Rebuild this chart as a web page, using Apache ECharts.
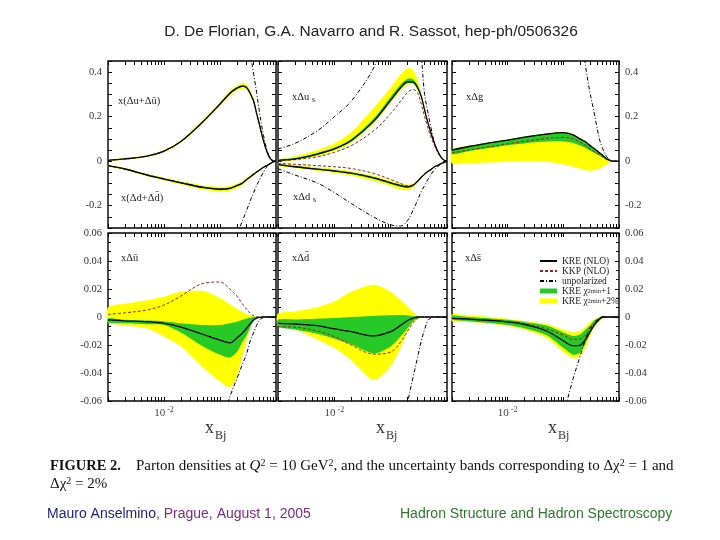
<!DOCTYPE html>
<html><head><meta charset="utf-8">
<script src="https://cdn.jsdelivr.net/npm/echarts@6/dist/echarts.min.js"></script>
<style>html,body{margin:0;padding:0;background:#fff}#c{width:720px;height:540px}</style>
</head><body><div id="c"></div>
<script>
// ---------- x grid and axis ticks ----------
const X = [0.001, 0.002, 0.005, 0.01, 0.02, 0.05, 0.1, 0.15, 0.2, 0.25, 0.3, 0.35, 0.4, 0.45, 0.5, 0.6, 0.7, 0.8, 0.9, 1.0];
const xTickValues = [0.001,0.002,0.003,0.004,0.005,0.006,0.007,0.008,0.009,0.01,0.02,0.03,0.04,0.05,0.06,0.07,0.08,0.09,0.1,0.2,0.3,0.4,0.5,0.6,0.7,0.8,0.9,1];
const xLabelValues = [0.01];
const yLabelsTop = [-0.2, 0, 0.2, 0.4];
const yLabelsBottom = [-0.06, -0.04, -0.02, 0, 0.02, 0.04, 0.06];

// ---------- panel 1 (top left): x(Δu+Δū) and x(Δd+Δd̄) ----------
const uPlusKRE  = [0.004, 0.01, 0.023, 0.045, 0.088, 0.178, 0.257, 0.305, 0.328, 0.337, 0.33, 0.302, 0.268, 0.215, 0.17, 0.09, 0.038, 0.01, 0.001, 0];
const uPlusKKP  = [0.004, 0.01, 0.023, 0.046, 0.089, 0.178, 0.255, 0.302, 0.326, 0.336, 0.331, 0.303, 0.27, 0.217, 0.17, 0.09, 0.038, 0.01, 0.001, 0];
const uPlusUnpol= [null, null, null, null, null, null, null, null, null, null, 0.6, 0.48, 0.39, 0.31, 0.23, 0.115, 0.045, 0.01, 0.001, 0];
const uPlusYhi  = [0.007, 0.014, 0.028, 0.05, 0.094, 0.186, 0.266, 0.316, 0.34, 0.35, 0.345, 0.315, 0.28, 0.226, 0.176, 0.094, 0.04, 0.011, 0.002, 0];
const uPlusYlo  = [0.002, 0.007, 0.019, 0.04, 0.083, 0.17, 0.248, 0.295, 0.317, 0.325, 0.32, 0.29, 0.258, 0.206, 0.163, 0.085, 0.035, 0.008, 0.0, 0];
const uPlusGhi  = [0.005, 0.012, 0.025, 0.047, 0.09, 0.181, 0.26, 0.309, 0.332, 0.341, 0.336, 0.306, 0.272, 0.219, 0.172, 0.091, 0.039, 0.01, 0.001, 0];
const uPlusGlo  = [0.003, 0.009, 0.021, 0.043, 0.086, 0.175, 0.254, 0.301, 0.324, 0.333, 0.328, 0.298, 0.265, 0.212, 0.167, 0.088, 0.037, 0.009, 0.001, 0];
const dPlusKRE  = [-0.02, -0.035, -0.062, -0.08, -0.097, -0.118, -0.126, -0.122, -0.11, -0.099, -0.082, -0.07, -0.058, -0.049, -0.041, -0.027, -0.018, -0.01, -0.003, 0];
const dPlusKKP  = [-0.02, -0.035, -0.061, -0.079, -0.096, -0.117, -0.125, -0.121, -0.109, -0.098, -0.082, -0.07, -0.058, -0.049, -0.041, -0.027, -0.018, -0.01, -0.003, 0];
const dPlusUnpol= [null, null, null, null, null, null, null, null, -0.33, -0.27, -0.219, -0.175, -0.14, -0.11, -0.087, -0.048, -0.022, -0.008, -0.002, 0];
const dPlusYhi  = [-0.016, -0.03, -0.056, -0.073, -0.089, -0.108, -0.115, -0.111, -0.1, -0.09, -0.075, -0.064, -0.053, -0.045, -0.037, -0.024, -0.016, -0.009, -0.002, 0];
const dPlusYlo  = [-0.024, -0.04, -0.068, -0.087, -0.105, -0.128, -0.137, -0.133, -0.12, -0.108, -0.089, -0.076, -0.063, -0.053, -0.045, -0.03, -0.02, -0.011, -0.004, 0];
const dPlusGhi  = [-0.018, -0.033, -0.059, -0.077, -0.094, -0.114, -0.122, -0.118, -0.107, -0.096, -0.08, -0.068, -0.056, -0.047, -0.04, -0.026, -0.017, -0.01, -0.003, 0];
const dPlusGlo  = [-0.022, -0.037, -0.065, -0.083, -0.1, -0.122, -0.13, -0.126, -0.113, -0.102, -0.084, -0.072, -0.06, -0.051, -0.042, -0.028, -0.019, -0.01, -0.003, 0];

// ---------- panel 2 (top middle): xΔu_s and xΔd_s ----------
const usKRE   = [0.004, 0.01, 0.032, 0.055, 0.093, 0.18, 0.274, 0.33, 0.356, 0.355, 0.33, 0.29, 0.23, 0.18, 0.14, 0.08, 0.04, 0.015, 0.004, 0];
const usKKP   = [0.003, 0.007, 0.02, 0.04, 0.07, 0.137, 0.214, 0.27, 0.309, 0.322, 0.308, 0.255, 0.2, 0.155, 0.12, 0.07, 0.035, 0.013, 0.003, 0];
const usUnpol = [0.055, 0.08, 0.137, 0.2, 0.27, 0.42, 0.62, 0.72, 0.76, 0.72, 0.62, 0.47, 0.3, 0.23, 0.17, 0.08, 0.035, 0.015, 0.003, 0];
const usYhi   = [0.008, 0.022, 0.05, 0.08, 0.13, 0.24, 0.33, 0.39, 0.418, 0.41, 0.365, 0.3, 0.24, 0.188, 0.145, 0.083, 0.042, 0.016, 0.004, 0];
const usYlo   = [0.0, 0.004, 0.022, 0.045, 0.082, 0.168, 0.262, 0.318, 0.345, 0.345, 0.32, 0.28, 0.222, 0.174, 0.135, 0.077, 0.038, 0.014, 0.003, 0];
const usGhi   = [0.006, 0.014, 0.037, 0.061, 0.1, 0.192, 0.29, 0.345, 0.37, 0.368, 0.342, 0.298, 0.236, 0.184, 0.143, 0.081, 0.041, 0.015, 0.004, 0];
const usGlo   = [0.002, 0.007, 0.028, 0.051, 0.088, 0.175, 0.268, 0.325, 0.351, 0.35, 0.326, 0.286, 0.227, 0.178, 0.138, 0.079, 0.039, 0.014, 0.003, 0];
const dsKRE   = [-0.015, -0.025, -0.036, -0.044, -0.054, -0.075, -0.097, -0.11, -0.115, -0.108, -0.09, -0.072, -0.058, -0.047, -0.04, -0.025, -0.017, -0.01, -0.005, 0];
const dsKKP   = [-0.01, -0.014, -0.02, -0.025, -0.033, -0.055, -0.082, -0.1, -0.11, -0.106, -0.09, -0.072, -0.058, -0.047, -0.04, -0.025, -0.017, -0.01, -0.005, 0];
const dsUnpol = [-0.034, -0.062, -0.098, -0.141, -0.19, -0.251, -0.286, -0.291, -0.266, -0.22, -0.176, -0.135, -0.11, -0.085, -0.067, -0.037, -0.022, -0.011, -0.004, 0];
const dsYhi   = [-0.008, -0.016, -0.027, -0.034, -0.044, -0.064, -0.086, -0.099, -0.105, -0.1, -0.084, -0.068, -0.055, -0.045, -0.038, -0.024, -0.016, -0.009, -0.004, 0];
const dsYlo   = [-0.02, -0.031, -0.044, -0.053, -0.065, -0.088, -0.112, -0.127, -0.13, -0.12, -0.098, -0.078, -0.062, -0.05, -0.042, -0.026, -0.018, -0.011, -0.005, 0];
const dsGhi   = [-0.013, -0.022, -0.033, -0.041, -0.051, -0.071, -0.093, -0.106, -0.111, -0.105, -0.088, -0.071, -0.057, -0.046, -0.039, -0.025, -0.017, -0.01, -0.005, 0];
const dsGlo   = [-0.017, -0.028, -0.039, -0.047, -0.058, -0.08, -0.102, -0.115, -0.12, -0.112, -0.093, -0.074, -0.059, -0.048, -0.041, -0.026, -0.018, -0.01, -0.005, 0];

// ---------- panel 3 (top right): xΔg ----------
const gKRE   = [0.05, 0.066, 0.083, 0.095, 0.108, 0.122, 0.128, 0.118, 0.1, 0.087, 0.071, 0.059, 0.048, 0.037, 0.029, 0.011, 0.003, 0, 0, 0];
const gKKP   = [0.037, 0.05, 0.066, 0.078, 0.089, 0.102, 0.107, 0.1, 0.085, 0.071, 0.055, 0.045, 0.036, 0.028, 0.021, 0.008, 0.002, 0, 0, 0];
const gUnpol = [null, null, null, null, null, null, null, null, 0.62, 0.43, 0.31, 0.23, 0.155, 0.095, 0.062, 0.02, 0.005, 0.001, 0, 0];
const gYhi   = [0.053, 0.069, 0.086, 0.098, 0.111, 0.125, 0.131, 0.121, 0.103, 0.089, 0.073, 0.061, 0.05, 0.039, 0.03, 0.012, 0.003, 0, 0, 0];
const gYlo   = [-0.01, -0.009, -0.006, -0.002, 0.001, -0.001, -0.015, -0.024, -0.034, -0.04, -0.043, -0.041, -0.038, -0.034, -0.026, -0.016, -0.006, -0.001, 0, 0];
const gGhi   = [0.052, 0.068, 0.085, 0.097, 0.11, 0.124, 0.13, 0.12, 0.102, 0.088, 0.072, 0.06, 0.049, 0.038, 0.03, 0.012, 0.003, 0, 0, 0];
const gGlo   = [0.031, 0.045, 0.06, 0.072, 0.08, 0.088, 0.089, 0.082, 0.07, 0.059, 0.048, 0.039, 0.031, 0.024, 0.017, 0.006, 0.001, 0, 0, 0];

// ---------- panel 4 (bottom left): xΔū ----------
const ubKRE   = [-0.002, -0.0027, -0.0034, -0.0045, -0.0072, -0.0125, -0.0165, -0.0185, -0.015, -0.0115, -0.008, -0.0045, -0.002, -0.0008, -0.0002, 0, 0, 0, 0, 0];
const ubKKP   = [0.0018, 0.003, 0.005, 0.0085, 0.015, 0.024, 0.025, 0.02, 0.015, 0.0095, 0.0055, 0.0023, 0.0008, 0.0002, 0, 0, 0, 0, 0, 0];
const ubUnpol = [null, null, null, null, null, null, -0.08, -0.057, -0.044, -0.034, -0.026, -0.0165, -0.011, -0.006, -0.0025, -0.0003, 0, 0, 0, 0];
const ubYhi   = [0.007, 0.0095, 0.012, 0.0145, 0.018, 0.0185, 0.0135, 0.009, 0.006, 0.0035, 0.002, 0.0012, 0.0005, 0.0001, 0, 0, 0, 0, 0, 0];
const ubYlo   = [-0.004, -0.006, -0.008, -0.014, -0.021, -0.036, -0.046, -0.05, -0.043, -0.028, -0.017, -0.007, -0.002, 0, 0, 0, 0, 0, 0, 0];
const ubGhi   = [-0.001, -0.002, -0.0025, -0.003, -0.0045, -0.0058, -0.0057, -0.0045, -0.0034, -0.002, -0.001, -0.0005, 0, 0, 0, 0, 0, 0, 0, 0];
const ubGlo   = [-0.004, -0.0045, -0.0052, -0.0057, -0.011, -0.021, -0.027, -0.029, -0.025, -0.018, -0.013, -0.007, -0.003, -0.001, 0, 0, 0, 0, 0, 0];

// ---------- panel 5 (bottom middle): xΔd̄ ----------
const dbKRE   = [-0.0045, -0.005, -0.0062, -0.0085, -0.0105, -0.0135, -0.0105, -0.006, -0.0025, -0.0008, 0, 0, 0, 0, 0, 0, 0, 0, 0, 0];
const dbKKP   = [-0.007, -0.0073, -0.01, -0.014, -0.02, -0.0265, -0.025, -0.018, -0.01, -0.004, -0.001, 0, 0, 0, 0, 0, 0, 0, 0, 0];
const dbUnpol = [null, null, null, null, null, null, null, -0.09, -0.061, -0.043, -0.029, -0.017, -0.009, -0.003, -0.001, 0, 0, 0, 0, 0];
const dbYhi   = [0.0025, 0.004, 0.007, 0.011, 0.018, 0.023, 0.018, 0.012, 0.0075, 0.0035, 0.001, 0, 0, 0, 0, 0, 0, 0, 0, 0];
const dbYlo   = [-0.006, -0.009, -0.016, -0.022, -0.031, -0.045, -0.035, -0.022, -0.01, -0.004, -0.001, 0, 0, 0, 0, 0, 0, 0, 0, 0];
const dbGhi   = [-0.002, -0.0017, -0.0012, -0.0008, 0, 0.0008, 0.0012, 0.0014, 0.0012, 0.0006, 0.0002, 0, 0, 0, 0, 0, 0, 0, 0, 0];
const dbGlo   = [-0.007, -0.009, -0.012, -0.0155, -0.0195, -0.026, -0.021, -0.014, -0.008, -0.003, -0.001, 0, 0, 0, 0, 0, 0, 0, 0, 0];

// ---------- panel 6 (bottom right): xΔs̄ ----------
const sbKRE   = [-0.001, -0.0015, -0.0025, -0.0035, -0.0053, -0.01, -0.017, -0.0205, -0.0202, -0.016, -0.011, -0.0065, -0.0035, -0.0013, 0, 0, 0, 0, 0, 0];
const sbKKP   = [-0.001, -0.0015, -0.0025, -0.0035, -0.005, -0.0085, -0.013, -0.016, -0.0158, -0.0128, -0.009, -0.0055, -0.003, -0.001, 0, 0, 0, 0, 0, 0];
const sbUnpol = [null, null, null, null, null, null, -0.07, -0.044, -0.028, -0.016, -0.008, -0.005, -0.002, -0.0006, 0, 0, 0, 0, 0, 0];
const sbYhi   = [0.002, 0.0012, 0, -0.0012, -0.0028, -0.005, -0.009, -0.011, -0.01, -0.007, -0.004, -0.002, -0.0006, 0, 0, 0, 0, 0, 0, 0];
const sbYlo   = [-0.003, -0.0035, -0.0048, -0.0065, -0.009, -0.015, -0.025, -0.0295, -0.028, -0.022, -0.014, -0.008, -0.005, -0.003, -0.0012, 0, 0, 0, 0, 0];
const sbGhi   = [0.001, 0, -0.001, -0.002, -0.0035, -0.006, -0.011, -0.0136, -0.0125, -0.009, -0.006, -0.003, -0.0015, -0.0005, 0, 0, 0, 0, 0, 0];
const sbGlo   = [-0.002, -0.003, -0.0045, -0.0057, -0.008, -0.013, -0.022, -0.027, -0.0255, -0.019, -0.012, -0.007, -0.0045, -0.0025, -0.001, 0, 0, 0, 0, 0];

// ---------- names ----------
const N_KRE = 'KRE (NLO)', N_KKP = 'KKP (NLO)', N_UNP = 'unpolarized', N_G = 'KRE χ2min+1', N_Y = 'KRE χ2min+2%';
const GRN = '#27c927', YEL = '#ffff00', KKPC = '#9a2222';

// ---------- layout ----------
const grids = [
  {left:108, top:61, width:168, height:167},
  {left:278, top:61, width:169, height:167},
  {left:452, top:61, width:167, height:167},
  {left:108, top:233, width:168, height:168},
  {left:278, top:233, width:169, height:168},
  {left:452, top:233, width:167, height:168}
].map(g => Object.assign(g, {show:true, borderColor:'#000', borderWidth:1.4, backgroundColor:'transparent'}));

const SERIF = '"Liberation Serif","DejaVu Serif",serif';
const SANS = '"Liberation Sans",Arial,sans-serif';

const xAxes = [], yAxes = [];
grids.forEach((g, gi) => {
  const bottomRow = gi >= 3;
  ['bottom','top'].forEach(pos => {
    xAxes.push({
      gridIndex: gi, type:'log', logBase:10, min:0.001, max:1, position: pos,
      axisLine:{show:false, onZero:false},
      axisTick:{show:true, inside:true, length:4, customValues: xTickValues, lineStyle:{color:'#000', width:1}},
      axisLabel:{show: bottomRow && pos === 'bottom', customValues: xLabelValues, margin:5,
        formatter: () => '{a|10}{b|-2}',
        rich:{a:{fontFamily:SERIF, fontSize:11, color:'#444', lineHeight:13, verticalAlign:'bottom'},
              b:{fontFamily:SERIF, fontSize:8, color:'#444', lineHeight:13, verticalAlign:'top', padding:[0,0,0,2]}}},
      splitLine:{show:false}
    });
  });
  const col = gi % 3;
  ['left','right'].forEach(pos => {
    const showLab = (pos === 'left' && col === 0) || (pos === 'right' && col === 2);
    const ax = {
      gridIndex: gi, type:'value', position: pos,
      axisLine:{show:false, onZero:false},
      splitLine:{show:false},
      axisLabel:{show: showLab, margin:6, color:'#333', fontFamily:SERIF, fontSize:10.5,
        formatter: v => Math.abs(v) < 1e-9 ? '0' : (bottomRow ? v.toFixed(2) : String(+v.toFixed(2)))}
    };
    if (bottomRow) {
      Object.assign(ax, {min:-0.06, max:0.06, interval:0.02,
        axisTick:{show:true, inside:true, length:4, lineStyle:{color:'#000'}},
        minorTick:{show:true, splitNumber:3, length:3, lineStyle:{color:'#000'}}});
      ax.axisLabel.customValues = yLabelsBottom;
    } else {
      Object.assign(ax, {min:-0.3, max:0.45, interval:0.05,
        axisTick:{show:true, inside:true, length:4, lineStyle:{color:'#000'}}});
      ax.axisLabel.customValues = yLabelsTop;
    }
    yAxes.push(ax);
  });
});

// ---------- series ----------
const series = [];
function addBand(gi, lo, hi, name, color) {
  series.push({
    type:'custom', name, coordinateSystem:'cartesian2d', xAxisIndex: gi*2, yAxisIndex: gi*2,
    color, itemStyle:{color}, silent:true, animation:false,
    data:[[0.01, 0]],
    renderItem: (params, api) => {
      const pts = [];
      X.forEach((x, i) => pts.push(api.coord([x, hi[i]])));
      for (let i = X.length - 1; i >= 0; i--) pts.push(api.coord([X[i], lo[i]]));
      const clean = [];
      pts.forEach(p => {
        const q = clean[clean.length - 1];
        if (!q || Math.abs(q[0] - p[0]) > 0.05 || Math.abs(q[1] - p[1]) > 0.05) clean.push(p);
      });
      return {type:'polygon', shape:{points: clean, smooth: 0.25}, style:{fill: color, stroke: null}};
    }
  });
}
function addLine(gi, vals, name, color, width, type) {
  series.push({type:'line', name, xAxisIndex: gi*2, yAxisIndex: gi*2, symbol:'none', smooth:0.35,
    color, itemStyle:{color}, lineStyle:{color, width, type}, silent:true, animation:false, connectNulls:false,
    data: X.map((x, i) => [x, vals[i]])});
}
function panel(gi, parts) {
  parts.forEach(p => addBand(gi, p.ylo, p.yhi, N_Y, YEL));
  parts.forEach(p => addBand(gi, p.glo, p.ghi, N_G, GRN));
  parts.forEach(p => addLine(gi, p.unp, N_UNP, '#000', 1, [4,2,1,2]));
  parts.forEach(p => addLine(gi, p.kkp, N_KKP, KKPC, 1, [3,2]));
  parts.forEach(p => addLine(gi, p.kre, N_KRE, '#000', 1.3, 'solid'));
}
panel(0, [{kre:uPlusKRE, kkp:uPlusKKP, unp:uPlusUnpol, ylo:uPlusYlo, yhi:uPlusYhi, glo:uPlusGlo, ghi:uPlusGhi},
          {kre:dPlusKRE, kkp:dPlusKKP, unp:dPlusUnpol, ylo:dPlusYlo, yhi:dPlusYhi, glo:dPlusGlo, ghi:dPlusGhi}]);
panel(1, [{kre:usKRE, kkp:usKKP, unp:usUnpol, ylo:usYlo, yhi:usYhi, glo:usGlo, ghi:usGhi},
          {kre:dsKRE, kkp:dsKKP, unp:dsUnpol, ylo:dsYlo, yhi:dsYhi, glo:dsGlo, ghi:dsGhi}]);
panel(2, [{kre:gKRE, kkp:gKKP, unp:gUnpol, ylo:gYlo, yhi:gYhi, glo:gGlo, ghi:gGhi}]);
panel(3, [{kre:ubKRE, kkp:ubKKP, unp:ubUnpol, ylo:ubYlo, yhi:ubYhi, glo:ubGlo, ghi:ubGhi}]);
panel(4, [{kre:dbKRE, kkp:dbKKP, unp:dbUnpol, ylo:dbYlo, yhi:dbYhi, glo:dbGlo, ghi:dbGhi}]);
panel(5, [{kre:sbKRE, kkp:sbKKP, unp:sbUnpol, ylo:sbYlo, yhi:sbYhi, glo:sbGlo, ghi:sbGhi}]);

// ---------- texts ----------
function txt(x, y, text, font, fill, align, rich) {
  const st = {text, font, fill, textAlign: align || 'left', textVerticalAlign:'middle'};
  if (rich) st.rich = rich;
  return {type:'text', x, y, silent:true, style: st};
}
const labFont = '10.5px ' + SERIF;
const richXB = {x:{fontFamily:SERIF, fontSize:18, fill:'#333', lineHeight:20, verticalAlign:'bottom'},
                b:{fontFamily:SERIF, fontSize:12, fill:'#333', lineHeight:20, verticalAlign:'bottom', padding:[0,0,-5,1]}};
const capRich = {
  b:{fontFamily:SERIF, fontSize:14.5, fontWeight:'bold', fill:'#111'},
  t:{fontFamily:SERIF, fontSize:15, fill:'#111'},
  i:{fontFamily:SERIF, fontSize:15, fontStyle:'italic', fill:'#111'},
  s:{fontFamily:SERIF, fontSize:10, fill:'#111', verticalAlign:'top', padding:[0,0,6,0]}
};
const graphic = [
  txt(371, 32, 'D. De Florian, G.A. Navarro and R. Sassot, hep-ph/0506326', '15.5px ' + SANS, '#222', 'center'),
  txt(118, 101, 'x(Δu+Δū)', labFont, '#222'),
  txt(121, 198, 'x(Δd+Δd\u0304)', labFont, '#222'),
  txt(292, 97, 'xΔu', labFont, '#222'),
  txt(312, 100, 's', '8px ' + SERIF, '#222'),
  txt(293, 197, 'xΔd', labFont, '#222'),
  txt(313, 200, 's', '8px ' + SERIF, '#222'),
  txt(466, 97, 'xΔg', labFont, '#222'),
  txt(121, 258, 'xΔū', labFont, '#222'),
  txt(292, 258, 'xΔd\u0304', labFont, '#222'),
  txt(465, 258, 'xΔs\u0304', labFont, '#222'),
  txt(205, 427, '{x|x}{b|Bj}', '18px ' + SERIF, '#333', 'left', richXB),
  txt(376, 427, '{x|x}{b|Bj}', '18px ' + SERIF, '#333', 'left', richXB),
  txt(548, 427, '{x|x}{b|Bj}', '18px ' + SERIF, '#333', 'left', richXB),
  txt(50, 466, '{b|FIGURE 2.}{t|    Parton densities at }{i|Q}{s|2}{t| = 10 GeV}{s|2}{t|, and the uncertainty bands corresponding to Δχ}{s|2}{t| = 1 and}', '15px ' + SERIF, '#111', 'left', capRich),
  txt(50, 484, '{t|Δχ}{s|2}{t| = 2%}', '15px ' + SERIF, '#111', 'left', capRich),
  txt(47, 514, '{n|Mauro Anselmino}{p|, Prague, August 1, 2005}', '14px ' + SANS, '#1c1c7a', 'left',
      {n:{fontFamily:SANS, fontSize:14, fill:'#1c1c80'}, p:{fontFamily:SANS, fontSize:14, fill:'#7d2a80'}}),
  txt(400, 514, 'Hadron Structure and Hadron Spectroscopy', '14px ' + SANS, '#2a7a2a', 'left')
];

const legendRich = {
  t:{fontFamily:SERIF, fontSize:9.5, color:'#222', lineHeight:7},
  sp:{fontFamily:SERIF, fontSize:6.5, color:'#222', lineHeight:7, verticalAlign:'top'},
  sb:{fontFamily:SERIF, fontSize:6.5, color:'#222', lineHeight:7, verticalAlign:'bottom'}
};

const chart = echarts.init(document.getElementById('c'), null, {renderer:'canvas'});
chart.setOption({
  animation:false,
  backgroundColor:'#fff',
  grid: grids,
  xAxis: xAxes,
  yAxis: yAxes,
  series,
  graphic,
  legend:{
    left:534, top:251, orient:'vertical', itemWidth:17, itemHeight:5, itemGap:0, selectedMode:false,
    data:[{name:N_KRE, itemStyle:{opacity:0}}, {name:N_KKP, itemStyle:{opacity:0}}, {name:N_UNP, itemStyle:{opacity:0}},
          {name:N_G, icon:'rect', itemStyle:{color:GRN, opacity:1}}, {name:N_Y, icon:'rect', itemStyle:{color:YEL, opacity:1}}],
    formatter: name => {
      if (name === N_G) return '{t|KRE χ}{sp|2}{sb|min}{t|+1}';
      if (name === N_Y) return '{t|KRE χ}{sp|2}{sb|min}{t|+2%}';
      return '{t|' + name + '}';
    },
    textStyle:{rich: legendRich, padding:[0,0,0,0]}
  }
});
</script>
</body></html>
